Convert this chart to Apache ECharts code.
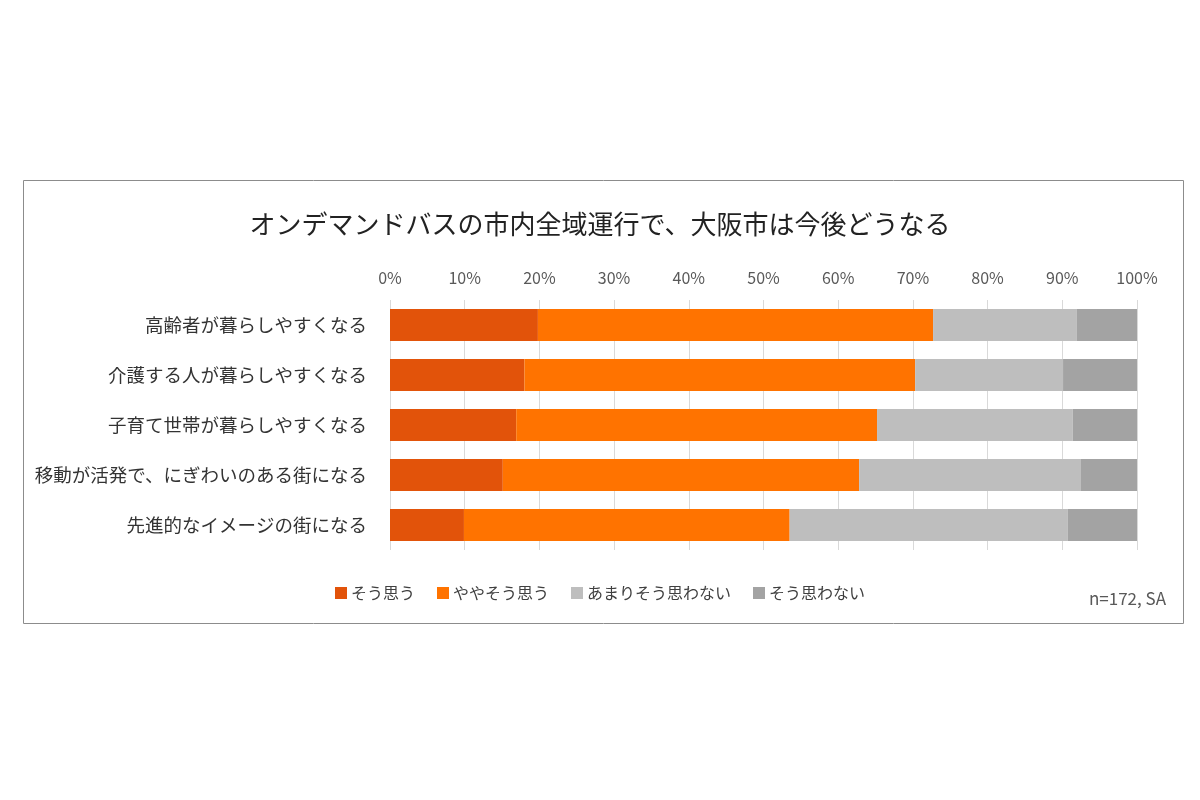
<!DOCTYPE html>
<html><head><meta charset="utf-8">
<script src="https://cdn.jsdelivr.net/npm/echarts@6/dist/echarts.min.js"></script>
<style>html,body{margin:0;padding:0;background:#fff;}#c{width:1200px;height:800px;}</style>
</head><body><div id="c"></div>
<script>
const titleText = 'オンデマンドバスの市内全域運行で、大阪市は今後どうなる';
const categories = ['高齢者が暮らしやすくなる','介護する人が暮らしやすくなる','子育て世帯が暮らしやすくなる','移動が活発で、にぎわいのある街になる','先進的なイメージの街になる'];
const seriesNames = ['そう思う','ややそう思う','あまりそう思わない','そう思わない'];
const agree = [19.8, 18.0, 16.9, 15.1, 9.9];
const somewhatAgree = [52.9, 52.3, 48.3, 47.7, 43.6];
const notReally = [19.2, 19.8, 26.2, 29.7, 37.2];
const disagree = [8.1, 9.9, 8.6, 7.5, 9.3];
const note = 'n=172, SA';
const colors = ['#E2530A','#FF7300','#BEBEBE','#A3A3A3'];
const FONT = '"Noto Sans CJK JP", "Noto Sans", sans-serif';

const values = [agree, somewhatAgree, notReally, disagree];
const chart = echarts.init(document.getElementById('c'));
chart.setOption({
  animation: false,
  textStyle: { fontFamily: FONT },
  title: {
    text: titleText, left: 'center', top: 206,
    textStyle: { fontFamily: FONT, fontSize: 26, fontWeight: 'normal', color: '#222' }
  },
  legend: {
    data: seriesNames, top: 580, left: 'center',
    itemWidth: 12, itemHeight: 12, itemGap: 22, icon: 'rect',
    textStyle: { fontFamily: FONT, fontSize: 16, color: '#404040', padding: [0,0,0,-1] }
  },
  grid: { left: 390, right: 63, top: 300, bottom: 250 },
  xAxis: {
    type: 'value', position: 'top', min: 0, max: 100, interval: 10,
    axisLabel: { formatter: '{value}%', fontSize: 16, color: '#595959', fontFamily: FONT, margin: 14 },
    axisLine: { show: false }, axisTick: { show: false },
    splitLine: { lineStyle: { color: '#D9D9D9', width: 1 } }
  },
  yAxis: {
    type: 'category', data: categories, inverse: true,
    axisLine: { show: false }, axisTick: { show: false },
    axisLabel: { fontSize: 18.5, color: '#333', fontFamily: FONT, margin: 23 }
  },
  series: seriesNames.map((n, i) => ({
    name: n, type: 'bar', stack: 'total', data: values[i],
    barWidth: 32, itemStyle: { color: colors[i] }
  })),
  graphic: [
    { type: 'rect', shape: { x: 23.5, y: 180.5, width: 1160, height: 443 },
      style: { fill: 'none', stroke: '#8C8C8C', lineWidth: 1 }, z: -1 },
    { type: 'text', right: 34, top: 590,
      style: { text: note, font: '17px ' + FONT, fill: '#595959' } }
  ]
});
</script></body></html>
